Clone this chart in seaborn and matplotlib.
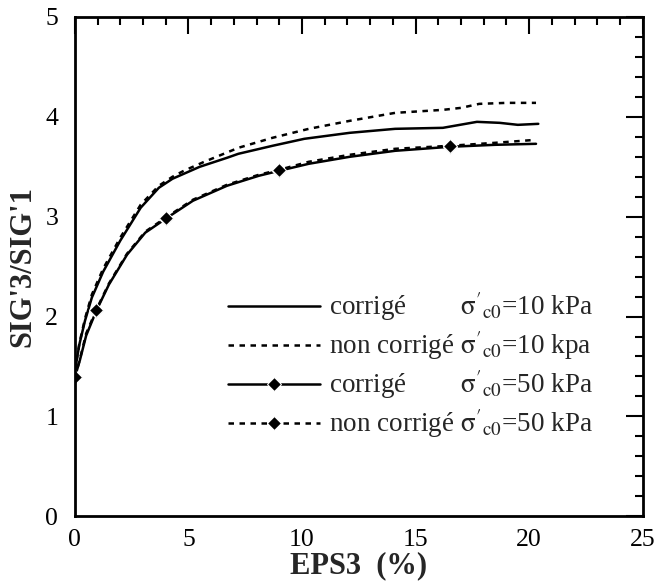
import numpy as np
import pandas as pd
import matplotlib
matplotlib.use("Agg")
import matplotlib.pyplot as plt
import seaborn as sns
from matplotlib.ticker import MultipleLocator

# ---- data ----
x_10c = [0, 0.2, 0.45, 0.75, 1.25, 2.0, 2.9, 3.7, 4.3, 5.5, 6.7, 7.2, 8.7, 10.1, 12.1, 14.1, 16.2, 16.7, 17.7, 18.7, 19.5, 20.4]
y_10c = [1.45, 1.72, 1.96, 2.19, 2.45, 2.76, 3.09, 3.29, 3.38, 3.50, 3.59, 3.63, 3.71, 3.78, 3.84, 3.88, 3.89, 3.91, 3.95, 3.94, 3.92, 3.93]

x_10n = [0, 0.2, 0.45, 0.75, 1.25, 2.0, 2.9, 3.7, 4.3, 4.8, 5.7, 7.2, 8.7, 10.3, 12.1, 14.1, 15.5, 16.2, 17.0, 17.8, 19.0, 20.3]
y_10n = [1.45, 1.73, 1.98, 2.22, 2.48, 2.79, 3.12, 3.31, 3.40, 3.46, 3.55, 3.69, 3.79, 3.88, 3.96, 4.04, 4.06, 4.07, 4.09, 4.13, 4.14, 4.14]

x_50 = [0, 0.22, 0.5, 0.95, 1.5, 2.3, 3.1, 4.0, 5.2, 6.7, 8.1, 9.0, 10.3, 12.1, 14.1, 16.5, 18.5, 20.3]
y_50c = [1.39, 1.56, 1.81, 2.06, 2.32, 2.62, 2.84, 2.98, 3.16, 3.31, 3.41, 3.46, 3.53, 3.60, 3.66, 3.70, 3.72, 3.73]
y_50n = [1.39, 1.57, 1.83, 2.07, 2.33, 2.63, 2.85, 2.99, 3.17, 3.32, 3.42, 3.47, 3.55, 3.62, 3.68, 3.71, 3.74, 3.77]
marker_x = [0, 0.95, 4.0, 9.0, 16.5]

sig = "$\\mathrm{\\sigma}'_{\\mathrm{c0}}$"
labels = [
    "corrigé        " + sig + "=10 kPa",
    "non corrigé " + sig + "=10 kpa",
    "corrigé        " + sig + "=50 kPa",
    "non corrigé " + sig + "=50 kPa",
]
x_ticks = [0, 5, 10, 15, 20, 25]
y_ticks = [0, 1, 2, 3, 4, 5]

# ---- style ----
sns.set_style("white")
plt.rcParams["font.family"] = ["Liberation Serif", "DejaVu Serif"]
plt.rcParams["mathtext.fontset"] = "stix"

fig = plt.figure(figsize=(6.62, 5.86), dpi=100)
ax = fig.add_axes([0.113, 0.119, 0.858, 0.852])

lw = 1.8
dash = (0, (2.2, 2.2))
mk_idx = [x_50.index(v) for v in marker_x]

sns.lineplot(x=x_10c, y=y_10c, ax=ax, color="black", lw=lw, label=labels[0], sort=False)
sns.lineplot(x=x_10n, y=y_10n, ax=ax, color="black", lw=lw, linestyle=dash, label=labels[1], sort=False)
sns.lineplot(x=x_50, y=y_50c, ax=ax, color="black", lw=lw, marker="D", markersize=7,
             markevery=mk_idx, label=labels[2], sort=False)
sns.lineplot(x=x_50, y=y_50n, ax=ax, color="black", lw=lw, linestyle=dash, marker="D", markersize=7,
             markevery=mk_idx, label=labels[3], sort=False)

ax.set_xlim(0, 25)
ax.set_ylim(0, 5)
ax.set_xticks(x_ticks)
ax.set_yticks(y_ticks)
ax.xaxis.set_minor_locator(MultipleLocator(1))
ax.yaxis.set_minor_locator(MultipleLocator(0.2))
ax.tick_params(which="both", direction="in", top=True, right=True, width=1.5, colors="black",
               labelsize=18.5)
ax.tick_params(which="major", length=12)
ax.tick_params(axis="y", which="major", pad=12)
ax.tick_params(axis="x", which="major", pad=9)
ax.tick_params(which="minor", length=6)
for s in ax.spines.values():
    s.set_linewidth(2)
    s.set_color("black")

ax.set_xlabel("EPS3  (%)", fontsize=22, fontweight="bold", labelpad=0)
ax.set_ylabel("SIG'3/SIG'1", fontsize=22, fontweight="bold", labelpad=6)

leg = ax.legend(loc="upper left", bbox_to_anchor=(0.269, 0.452), frameon=False, fontsize=19.5,
                handlelength=3.4, handletextpad=0.35, labelspacing=0.22, borderpad=0,
                numpoints=1, borderaxespad=0)

fig.savefig("out.png", dpi=100)
